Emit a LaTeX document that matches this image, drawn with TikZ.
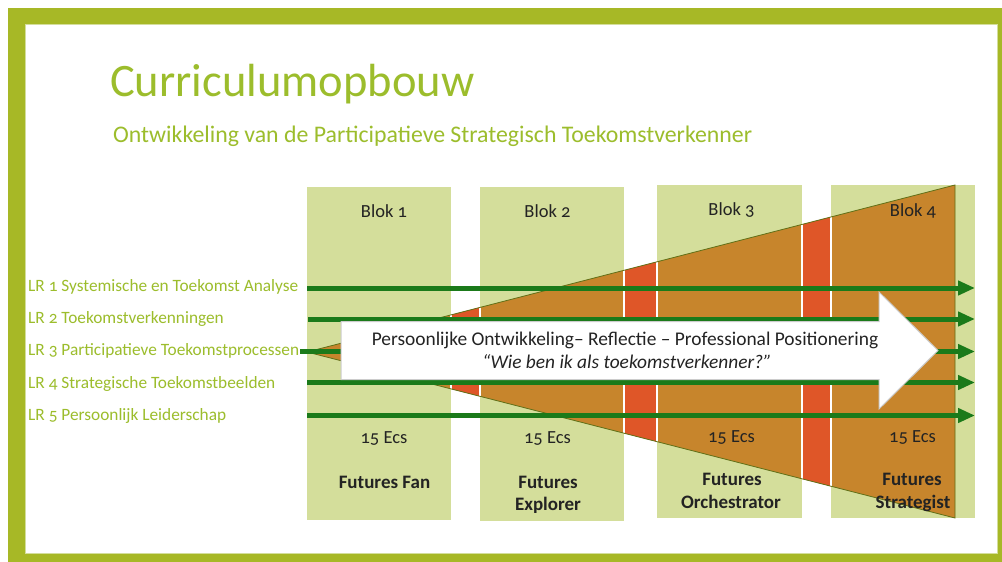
\documentclass[tikz,border=0pt]{standalone}
\usepackage{fontspec}
\setmainfont{Carlito}[Numbers=OldStyle]
\usepackage{xcolor}
\usetikzlibrary{arrows.meta}

\definecolor{framegreen}{RGB}{167,184,38}
\definecolor{limegreen}{RGB}{156,189,44}
\definecolor{blokgreen}{RGB}{212,222,155}
\definecolor{wedgeorange}{RGB}{199,133,44}
\definecolor{gapred}{RGB}{223,86,40}
\definecolor{lrgreen}{RGB}{27,122,26}
\definecolor{wedgeline}{RGB}{96,112,24}
\definecolor{inktext}{RGB}{35,35,35}

\tikzstyle{blok box}=[
        fill = blokgreen,
        inner sep = 0pt,
        anchor = north west
    ]
\tikzstyle{blok text}=[
    text = inktext,
    anchor = base,
    inner sep = 0pt,
    font = \fontsize{18.5}{22}\selectfont
]
\tikzstyle{role text}=[
    text = inktext,
    anchor = base,
    inner sep = 0pt,
    font = \bfseries\fontsize{19}{22.5}\selectfont
]
\tikzstyle{lr label}=[
    text = limegreen,
    anchor = base west,
    inner sep = 0pt,
    font = \fontsize{17.3}{20}\selectfont
]
\tikzstyle{lr arrow}=[
    draw = lrgreen,
    line width = 5pt,
    -{Triangle[length=17pt,width=14pt]}
]

\begin{document}
\begin{tikzpicture}[x=1pt, y=-1pt, arrow text/.style = {text = inktext, anchor = base, inner sep = 0pt, font = \fontsize{19.4}{23}\selectfont}]
        \useasboundingbox (0,0) rectangle (1002,562);

        % frame
        \fill[framegreen] (8,8) rectangle (1002,562);
        \fill[white] (25,24) rectangle (998,554);
        \draw[blokgreen, line width=1pt] (25.5,24.5) rectangle (997.5,553.5);

        \node[anchor=base west, inner sep=0pt, text=limegreen, font=\fontsize{46.5}{50}\selectfont] (title) at (110,96) {Curriculumopbouw};
        \node[anchor=base west, inner sep=0pt, text=limegreen, font=\fontsize{23.8}{26}\selectfont] (subtitle) at (113,142) {Ontwikkeling van de Participatieve Strategisch Toekomstverkenner};

        % blokken
        \node[blok box, minimum width=144, minimum height=333] (b1) at (307,187) {};
        \node[blok box, minimum width=144, minimum height=334] (b2) at (480,187) {};
        \node[blok box, minimum width=145, minimum height=333] (b3) at (657,185) {};
        \node[blok box, minimum width=144, minimum height=333] (b4) at (831,185) {};

        % groeiende wig
        \coordinate (apex) at (307,352);
        \coordinate (wtop) at (955,185);
        \coordinate (wbot) at (955,518);
        \fill[wedgeorange] (apex) -- (wtop) -- (wbot) -- cycle;
        \begin{scope}
            \clip (apex) -- (wtop) -- (wbot) -- cycle;
            \filldraw[fill=gapred, draw=white, line width=1.5pt] (451,150) rectangle (480,560);
            \filldraw[fill=gapred, draw=white, line width=1.5pt] (624,150) rectangle (657,560);
            \filldraw[fill=gapred, draw=white, line width=1.5pt] (802,150) rectangle (831,560);
        \end{scope}
        \draw[wedgeline, line width=0.8pt] (apex) -- (wtop) -- (wbot) -- cycle;

        % leerresultaten
        \node[lr label] (lr1) at (28,291) {LR 1 Systemische en Toekomst Analyse};
        \node[lr label] (lr2) at (28,323) {LR 2 Toekomstverkenningen};
        \node[lr label] (lr3) at (28,355) {LR 3 Participatieve Toekomstprocessen};
        \node[lr label] (lr4) at (28,388) {LR 4 Strategische Toekomstbeelden};
        \node[lr label] (lr5) at (28,420) {LR 5 Persoonlijk Leiderschap};

        \coordinate (s1) at (307,288);
        \coordinate (e1) at (975,288);
        \coordinate (s2) at (308,319);
        \coordinate (e2) at (975,319);
        \coordinate (s3) at (300,351.5);
        \coordinate (e3) at (975,351.5);
        \coordinate (s4) at (307,382.5);
        \coordinate (e4) at (975,382.5);
        \coordinate (s5) at (307,415.5);
        \coordinate (e5) at (975,415.5);

        \draw[lr arrow] (s1) -- (e1);
        \draw[lr arrow] (s2) -- (e2);
        \draw[lr arrow] (s3) -- (e3);
        \draw[lr arrow] (s4) -- (e4);
        \draw[lr arrow] (s5) -- (e5);

        % witte pijl
        \filldraw[fill=white, draw=gray!40, line width=1pt] (341,321.5) -- (879,321.5) -- (879,292) -- (938,350.5) -- (879,409) -- (879,379.5) -- (341,379.5) -- cycle;
        \node[arrow text] (reflectie) at (625,345) {Persoonlijke Ontwikkeling– Reflectie – Professional Positionering};
        \node[arrow text, font=\itshape\fontsize{19.4}{23}\selectfont] (vraag) at (627,368) {“Wie ben ik als toekomstverkenner?”};

        % teksten in de blokken
        \node[blok text] (blok1) at (384,217) {Blok 1};
        \node[blok text] (blok2) at (547.5,217) {Blok 2};
        \node[blok text] (blok3) at (731.5,215) {Blok 3};
        \node[blok text] (blok4) at (913,216) {Blok 4};

        \node[blok text] (ecs1) at (384,443) {15 Ecs};
        \node[blok text] (ecs2) at (547.5,443) {15 Ecs};
        \node[blok text] (ecs3) at (731.5,442) {15 Ecs};
        \node[blok text] (ecs4) at (912.5,442) {15 Ecs};

        \node[role text] (fan) at (384.5,488) {Futures Fan};
        \node[role text] (explorer1) at (548,488) {Futures};
        \node[role text] (explorer2) at (548,510) {Explorer};
        \node[role text] (orch1) at (732,485) {Futures};
        \node[role text] (orch2) at (731,508) {Orchestrator};
        \node[role text] (strat1) at (912,485) {Futures};
        \node[role text] (strat2) at (913,508) {Strategist};

    \end{tikzpicture}
\end{document}
